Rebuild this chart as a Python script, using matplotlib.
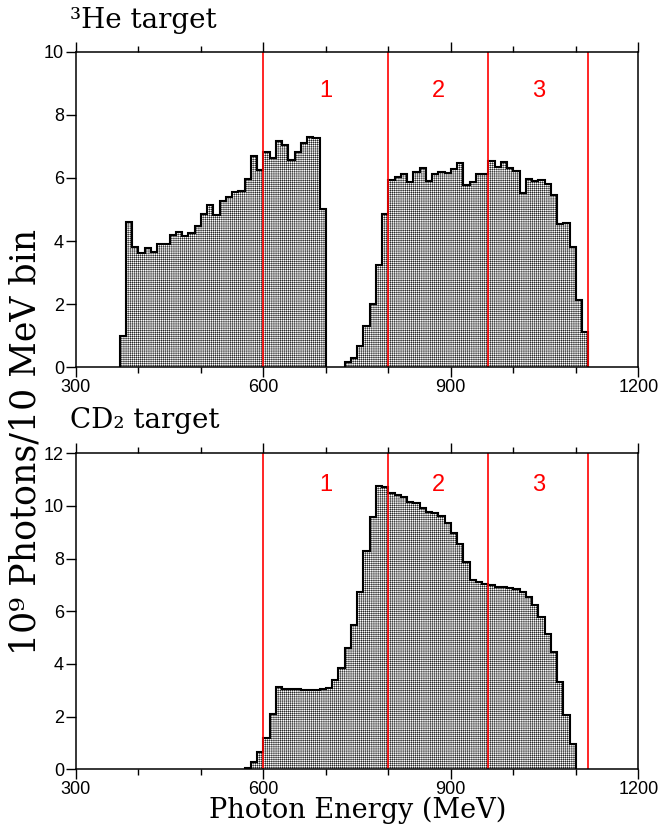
import numpy as np
import matplotlib
matplotlib.use("Agg")
import matplotlib.pyplot as plt
from matplotlib.ticker import MultipleLocator

# photon flux per 10 MeV bin, 3He target (two tagger settings)
he_lo_start = 370
he_lo = [1.0, 4.6, 3.81, 3.61, 3.79, 3.66, 3.9, 3.9, 4.18, 4.28, 4.16, 4.26,
         4.49, 4.87, 5.15, 4.82, 5.26, 5.41, 5.56, 5.59, 5.96, 6.68, 6.26,
         6.83, 6.62, 7.16, 7.03, 6.57, 6.83, 7.11, 7.31, 7.27, 5.02]
he_hi_start = 730
he_hi = [0.18, 0.29, 0.69, 1.32, 2.0, 3.25, 4.86, 5.92, 6.04, 6.12, 5.88,
         6.19, 6.33, 5.90, 6.11, 6.19, 6.15, 6.29, 6.46, 5.77, 5.88, 6.13,
         6.13, 6.55, 6.34, 6.52, 6.30, 6.21, 5.53, 5.96, 5.91, 5.93, 5.81,
         5.46, 4.54, 4.58, 3.80, 2.13, 1.13]

# photon flux per 10 MeV bin, CD2 target
cd_start = 570
cd = [0.06, 0.27, 0.65, 1.2, 2.1, 3.13, 3.05, 3.05, 3.06, 3.02, 3.01, 3.0,
      3.05, 3.1, 3.39, 3.84, 4.59, 5.48, 6.75, 8.28, 9.59, 10.77, 10.73,
      10.48, 10.43, 10.33, 10.16, 10.10, 9.91, 9.78, 9.72, 9.62, 9.37, 8.96,
      8.56, 7.89, 7.19, 7.10, 7.04, 7.0, 6.94, 6.91, 6.87, 6.84, 6.75, 6.56,
      6.24, 5.80, 5.14, 4.47, 3.33, 2.06, 0.95]
bin_width = 10

# energy regions
region_edges = [600, 800, 960, 1120]
region_labels = ["1", "2", "3"]

serif = ["DejaVu Serif"]
plt.rcParams["font.family"] = ["Liberation Sans", "DejaVu Sans"]
plt.rcParams["hatch.color"] = "black"
plt.rcParams["hatch.linewidth"] = 0.3


def draw_hist(ax, start, vals):
    edges = start + bin_width * np.arange(len(vals) + 1)
    ax.stairs(vals, edges, baseline=0, fill=True, facecolor="white",
              edgecolor="black", hatch="+" * 8, linewidth=0)
    ax.stairs(vals, edges, baseline=0, color="black", linewidth=1.5)


def style_axes(ax, ymax, label_y):
    ax.set_xlim(300, 1200)
    ax.set_ylim(0, ymax)
    ax.set_xticks([300, 600, 900, 1200])
    ax.xaxis.set_minor_locator(MultipleLocator(100))
    ax.set_yticks(np.arange(0, ymax + 1, 2))
    ax.tick_params(which="both", direction="out", top=True, right=False,
                   width=1, labelsize=13, pad=1.5)
    ax.tick_params(which="major", length=7)
    ax.tick_params(which="minor", length=4.5)
    for s in ax.spines.values():
        s.set_linewidth(1.1)
    for x in region_edges:
        ax.axvline(x, color="red", linewidth=1.2)
    for i, lab in enumerate(region_labels):
        xc = 0.5 * (region_edges[i] + region_edges[i + 1])
        ax.text(xc, label_y, lab, color="red", fontsize=17,
                ha="center", va="center")


fig = plt.figure(figsize=(6.58, 8.25), dpi=100)
ax1 = fig.add_axes([0.1152, 0.5548, 0.8548, 0.3825])
ax2 = fig.add_axes([0.1152, 0.0675, 0.8548, 0.3830])

draw_hist(ax1, he_lo_start, he_lo)
draw_hist(ax1, he_hi_start, he_hi)
style_axes(ax1, 10, 8.75)

draw_hist(ax2, cd_start, cd)
style_axes(ax2, 12, 10.8)

fig.text(0.107, 0.966, "³He target", family=serif, fontsize=20,
         ha="left", va="baseline")
fig.text(0.107, 0.481, "CD₂ target", family=serif, fontsize=20,
         ha="left", va="baseline")

fig.text(0.039, 0.464, "10⁹ Photons/10 MeV bin", family=serif, fontsize=25,
         rotation=90, ha="center", va="center")
fig.text(0.543, 0.0088, "Photon Energy (MeV)", family=serif, fontsize=19.5,
         ha="center", va="baseline")

fig.savefig("out.png", dpi=100)
